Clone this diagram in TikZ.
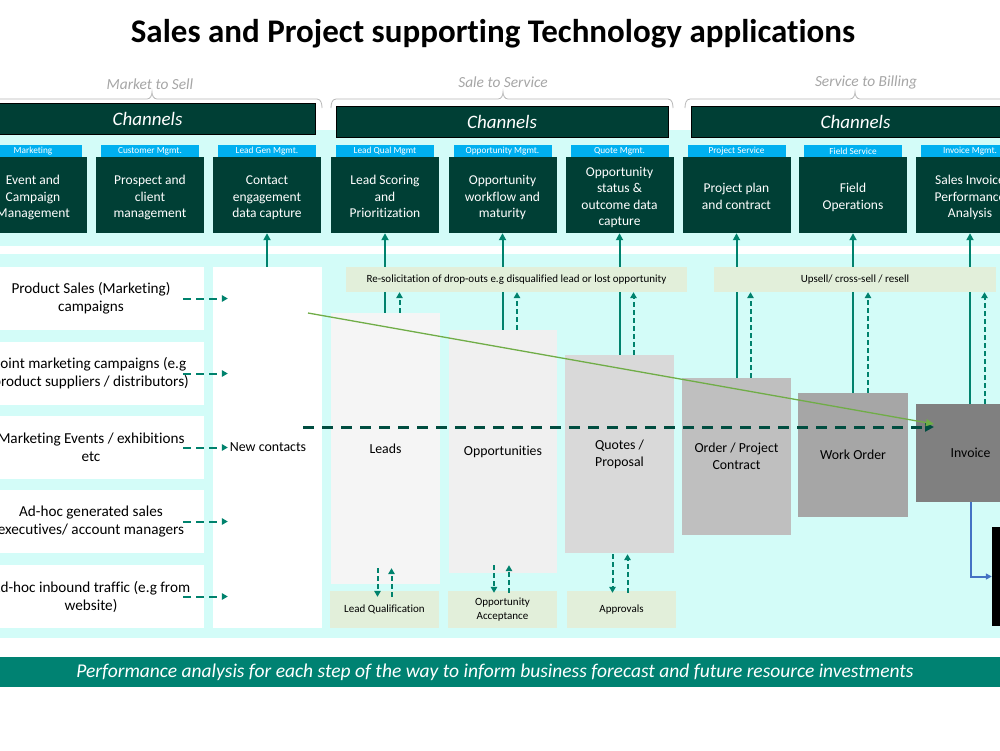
\documentclass[tikz,border=0pt]{standalone}
\usepackage{fontspec}
\setmainfont[Ligatures=NoCommon]{Carlito}
\usetikzlibrary{arrows.meta,calc}
\definecolor{dkg}{HTML}{003F35}
\definecolor{tealc}{HTML}{00826D}
\definecolor{tabblue}{HTML}{00B0F0}
\definecolor{cyanbg}{HTML}{D3FCF8}
\definecolor{lgreen}{HTML}{E2EFDA}
\definecolor{dashg}{HTML}{004D40}
\definecolor{arrgreen}{HTML}{70AD47}
\definecolor{bluec}{HTML}{4472C4}
\definecolor{barc}{HTML}{008272}
\definecolor{lblc}{HTML}{A6A6A6}
\pgfdeclarelayer{bg}
\pgfdeclarelayer{mid}
\pgfsetlayers{bg,mid,main}
\newcommand{\lowlines}[1]{\raisebox{-6.4pt}[0pt][0pt]{\begin{tabular}{@{}c@{}}#1\end{tabular}}}
\begin{document}
\begin{tikzpicture}[x=1pt,y=-1pt,
  appbox/.style={fill=dkg, text=white, align=center, inner sep=0pt, minimum width=108pt, minimum height=76pt, font=\fontsize{13.5}{16.5}\selectfont},
  tabbox/.style={fill=tabblue, text=white, inner sep=0pt, minimum width=98pt, minimum height=12pt, font=\fontsize{9.3}{10}\selectfont},
  chanbar/.style={fill=dkg, draw=black, line width=1pt, text=white, inner sep=0pt, minimum height=31pt, font=\fontsize{19}{21}\selectfont\itshape},
  seclabel/.style={text=lblc, font=\fontsize{15.4}{17}\selectfont\itshape},
  brace/.style={draw=lblc!80, line width=0.8pt},
  rowbox/.style={fill=white, align=center, inner sep=0pt, minimum width=226pt, minimum height=63pt, font=\fontsize{15.2}{18}\selectfont},
  funnel/.style={align=center, inner sep=0pt, font=\fontsize{13.8}{17}\selectfont},
  smallbox/.style={fill=lgreen, align=center, inner sep=0pt, minimum height=37pt, font=\fontsize{11}{13.5}\selectfont},
  banner/.style={fill=lgreen, inner sep=0pt, minimum height=25pt, font=\fontsize{11}{13}\selectfont},
  solidarrow/.style={draw=tealc, line width=2pt, -{Triangle[length=7pt,width=7pt]}},
  dasharrow/.style={draw=tealc, line width=2pt, dash pattern=on 5pt off 3pt, -{Triangle[length=6pt,width=6.5pt]}},
  hdasharrow/.style={draw=tealc, line width=2pt, dash pattern=on 8pt off 5pt, -{Triangle[length=6pt,width=6.5pt]}},
]
\useasboundingbox (0,0) rectangle (1000,750);
\clip (0,0) rectangle (1000,750);

% background
\begin{pgfonlayer}{bg}
\fill[white] (0,0) rectangle (1000,750);
\fill[cyanbg] (0,130) rectangle (1000,638);
\fill[white] (0,246) rectangle (1000,254);
\end{pgfonlayer}

% title
\node[font=\fontsize{33}{36}\selectfont\bfseries] (title) at (493,34) {Sales and Project supporting Technology applications};

% braces and section labels
\draw[brace] (-30,108) to[out=-90,in=180] (-25,99) -- (147,99) to[out=0,in=-90] (152,92) to[out=-90,in=180] (157,99) -- (317,99) to[out=0,in=90] (322,108);
\draw[brace] (331,108) to[out=90,in=180] (336,99) -- (498,99) to[out=0,in=-90] (503,92) to[out=-90,in=180] (508,99) -- (668,99) to[out=0,in=90] (673,108);
\draw[brace] (685,108) to[out=90,in=180] (690,99) -- (850,99) to[out=0,in=-90] (855,92) to[out=-90,in=180] (860,99) -- (1030,99);
\node[seclabel] (s1) at (150,84) {Market to Sell};
\node[seclabel] (s2) at (503,82) {Sale to Service};
\node[seclabel] (s3) at (866,82) {Service to Billing};

% channel bars
\node[chanbar, minimum width=335pt] (ch1) at (147.5,119) {Channels};
\node[chanbar, minimum width=332pt] (ch2) at (502,121.5) {Channels};
\node[chanbar, minimum width=329pt] (ch3) at (855.5,121.5) {Channels};

% top app boxes
\node[appbox] (b1) at (33,195) {\lowlines{Event and\\Campaign\\Management}};
\node[appbox] (b2) at (150,195) {\lowlines{Prospect and\\client\\management}};
\node[appbox] (b3) at (267,195) {\lowlines{Contact\\engagement\\data capture}};
\node[appbox] (b4) at (385,195) {\lowlines{Lead Scoring\\and\\Prioritization}};
\node[appbox] (b5) at (502.5,195) {\lowlines{Opportunity\\workflow and\\maturity}};
\node[appbox] (b6) at (619.5,195) {\lowlines{Opportunity\\status \&\\outcome data\\capture}};
\node[appbox] (b7) at (736.5,195) {\lowlines{Project plan\\and contract}};
\node[appbox] (b8) at (853,195) {\lowlines{Field\\Operations}};
\node[appbox] (b9) at (970,195) {\lowlines{Sales Invoice\\Performance\\Analysis}};

\node[tabbox] (t1) at (33,151) {Marketing};
\node[tabbox] (t2) at (150,151) {Customer Mgmt.};
\node[tabbox] (t3) at (267,151) {Lead Gen Mgmt.};
\node[tabbox] (t4) at (385,151) {Lead Qual Mgmt};
\node[tabbox] (t5) at (502.5,151) {Opportunity Mgmt.};
\node[tabbox] (t6) at (619.5,151) {Quote Mgmt.};
\node[tabbox] (t7) at (736.5,151) {Project Service};
\node[tabbox] (t8) at (853,151) {Field Service};
\node[tabbox] (t9) at (970,151) {Invoice Mgmt.};

% left rows
\node[rowbox] (r1) at (91,298.5) {Product Sales (Marketing)\\campaigns};
\node[rowbox] (r2) at (91,373.5) {Joint marketing campaigns (e.g\\product suppliers / distributors)};
\node[rowbox] (r3) at (91,447.5) {Marketing Events / exhibitions\\etc};
\node[rowbox] (r4) at (91,521.5) {Ad-hoc generated sales\\executives/ account managers};
\node[rowbox] (r5) at (91,596.5) {Ad-hoc inbound traffic (e.g from\\website)};

\node[fill=white, inner sep=0pt, minimum width=109pt, minimum height=361pt, font=\fontsize{13.9}{17}\selectfont] (nc) at (267.5,447.5) {\hspace{1pt}New contacts};

% banners
\node[banner, minimum width=341pt] (resol) at (516.5,279.5) {Re-solicitation of drop-outs e.g disqualified lead or lost opportunity};
\node[banner, minimum width=282pt] (upsell) at (855,279.5) {Upsell/ cross-sell / resell};

% funnel boxes
\node[funnel, fill=black!4, minimum width=109pt, minimum height=271pt] (leads) at (385.5,448.5) {Leads};
\node[funnel, fill=black!6, minimum width=108pt, minimum height=243pt] (opps) at (503,451.5) {Opportunities};
\node[funnel, fill=black!15, minimum width=109pt, minimum height=198pt] (quotes) at (619.5,454) {Quotes /\\Proposal};
\node[funnel, fill=black!25, minimum width=109pt, minimum height=157pt] (order) at (736.5,456.5) {Order / Project\\Contract};
\node[funnel, fill=black!35, minimum width=110pt, minimum height=124pt] (work) at (853,455) {Work Order};
\node[funnel, fill=black!50, minimum width=109pt, minimum height=98pt] (invoice) at (970.5,453) {Invoice};
\node[fill=black, inner sep=0pt, minimum width=18pt, minimum height=99pt] (blk) at (1001,576.5) {};

% bottom small boxes
\node[smallbox, minimum width=109pt] (lq) at (384.5,609.5) {Lead Qualification};
\node[smallbox, minimum width=109pt] (oa) at (502.5,609.5) {Opportunity\\Acceptance};
\node[smallbox, minimum width=109pt] (ap) at (621.5,609.5) {Approvals};

% solid vertical connectors (behind banners)
\begin{pgfonlayer}{mid}
\draw[solidarrow] (nc.north -| b3.south) -- (b3.south);
\draw[solidarrow] (leads.north -| b4.south) -- (b4.south);
\draw[solidarrow] (opps.north -| b5.south) -- (b5.south);
\draw[solidarrow] (quotes.north -| b6.south) -- (b6.south);
\draw[solidarrow] (order.north -| b7.south) -- (b7.south);
\draw[solidarrow] (work.north -| b8.south) -- (b8.south);
\draw[solidarrow] (invoice.north -| b9.south) -- (b9.south);
\end{pgfonlayer}

% dashed up arrows into banners
\draw[dasharrow] ([shift={(14,0)}]leads.north) -- ([shift={(14,0)}]leads.north |- resol.south);
\draw[dasharrow] ([shift={(14,0)}]opps.north) -- ([shift={(14,0)}]opps.north |- resol.south);
\draw[dasharrow] ([shift={(14,0)}]quotes.north) -- ([shift={(14,0)}]quotes.north |- resol.south);
\draw[dasharrow] ([shift={(14,0)}]order.north) -- ([shift={(14,0)}]order.north |- upsell.south);
\draw[dasharrow] ([shift={(15,0)}]work.north) -- ([shift={(15,0)}]work.north |- upsell.south);
\draw[dasharrow] ([shift={(14,0)}]invoice.north) -- ([shift={(14,0)}]invoice.north |- upsell.south);

% dashed arrows to bottom boxes
\draw[dasharrow] ([shift={(-8,-16)}]leads.south) -- ([shift={(-8,6)}]leads.south |- lq.north);
\draw[dasharrow] ([shift={(6,6)}]leads.south |- lq.north) -- ([shift={(6,-16)}]leads.south);
\draw[dasharrow] ([shift={(-9,-8)}]opps.south) -- ([shift={(-9,2)}]opps.south |- oa.north);
\draw[dasharrow] ([shift={(6,2)}]opps.south |- oa.north) -- ([shift={(6,-8)}]opps.south);
\draw[dasharrow] ([shift={(-7,1)}]quotes.south) -- ([shift={(-7,2)}]quotes.south |- ap.north);
\draw[dasharrow] ([shift={(8,2)}]quotes.south |- ap.north) -- ([shift={(8,1)}]quotes.south);

% left rows to new contacts
\foreach \r in {r1,r2,r3,r4,r5}{
  \draw[hdasharrow] ([shift={(-21,0)}]\r.east) -- ([shift={(15,0)}]\r.east -| nc.west);
}

% long dashed arrow and green arrow
\coordinate (dstart) at (303,427);
\coordinate (dend) at (934,427);
\coordinate (gstart) at (308,313);
\coordinate (gend) at (934,424);
\draw[draw=dashg, line width=3pt, dash pattern=on 11pt off 8pt, -{Triangle[length=9pt,width=9pt]}] (dstart) -- (dend);
\draw[draw=arrgreen, line width=1.3pt, -{Triangle[length=8pt,width=7pt]}] (gstart) -- (gend);

% blue connector
\draw[draw=bluec, line width=2pt, -{Triangle[length=6pt,width=6pt]}] (invoice.south) |- (blk.west);

% bottom bar
\node[fill=barc, inner sep=0pt, minimum width=1000pt, minimum height=30pt] (perf) at (500,672) {};
\node[text=white, font=\fontsize{19.5}{21}\selectfont\itshape] (perft) at (495,672) {Performance analysis for each step of the way to inform business forecast and future resource investments};
\end{tikzpicture}
\end{document}
